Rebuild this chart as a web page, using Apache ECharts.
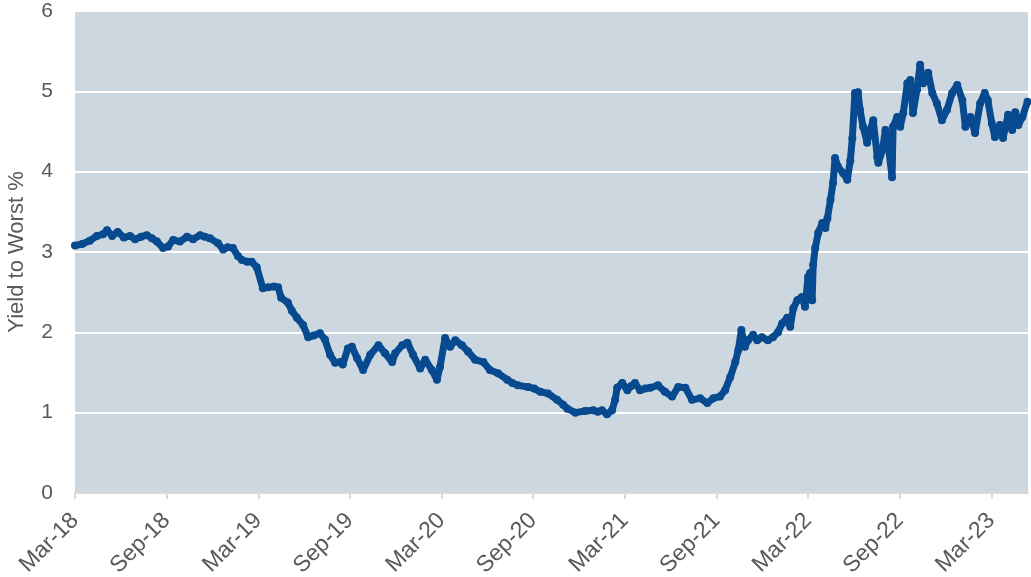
<!DOCTYPE html>
<html>
<head>
<meta charset="utf-8">
<script src="https://cdn.jsdelivr.net/npm/echarts@6/dist/echarts.min.js"></script>
<style>
  html, body { margin: 0; padding: 0; background: #ffffff; }
  #chart { width: 1031px; height: 577px; }
</style>
</head>
<body>
<div id="chart"></div>
<script>
// Observation dates and yield-to-worst values (%)
const dates = [
  '2018-03-01','2018-03-15','2018-03-30','2018-04-14','2018-04-26','2018-05-04','2018-05-14','2018-05-25',
  '2018-06-07','2018-06-19','2018-06-29','2018-07-11','2018-07-22','2018-08-02','2018-08-12','2018-08-24',
  '2018-09-04','2018-09-14','2018-09-27','2018-10-11','2018-10-23','2018-11-07','2018-11-16','2018-11-26',
  '2018-12-12','2018-12-22','2019-01-01','2019-01-11','2019-01-21','2019-01-29','2019-02-09','2019-02-18',
  '2019-02-28','2019-03-10','2019-03-20','2019-04-02','2019-04-10','2019-04-16','2019-04-29','2019-05-07',
  '2019-05-17','2019-05-29','2019-06-09','2019-06-20','2019-07-02','2019-07-12','2019-07-22','2019-08-02',
  '2019-08-12','2019-08-17','2019-08-27','2019-09-05','2019-09-15','2019-09-27','2019-10-11','2019-10-27',
  '2019-11-10','2019-11-24','2019-11-30','2019-12-14','2019-12-24','2020-01-05','2020-01-19','2020-01-29',
  '2020-02-12','2020-02-22','2020-02-28','2020-03-08','2020-03-18','2020-03-28','2020-04-11','2020-04-23',
  '2020-05-07','2020-05-23','2020-06-06','2020-06-22','2020-07-10','2020-07-20','2020-08-01','2020-08-21',
  '2020-09-03','2020-09-15','2020-09-30','2020-10-18','2020-10-30','2020-11-08','2020-11-24','2020-12-13',
  '2020-12-29','2021-01-08','2021-01-16','2021-01-26','2021-02-06','2021-02-12','2021-02-16','2021-02-26',
  '2021-03-06','2021-03-13','2021-03-21','2021-04-01','2021-04-11','2021-04-21','2021-05-06','2021-05-20',
  '2021-06-04','2021-06-16','2021-06-30','2021-07-13','2021-07-29','2021-08-13','2021-08-25','2021-09-08',
  '2021-09-18','2021-09-28','2021-10-08','2021-10-14','2021-10-20','2021-10-27','2021-11-03','2021-11-13',
  '2021-11-21','2021-11-30','2021-12-12','2021-12-22','2022-01-02','2022-01-10','2022-01-20','2022-01-26',
  '2022-02-02','2022-02-10','2022-02-19','2022-02-25','2022-03-01','2022-03-05','2022-03-09','2022-03-11',
  '2022-03-15','2022-03-21','2022-03-29','2022-04-05','2022-04-09','2022-04-15','2022-04-20','2022-04-24',
  '2022-04-30','2022-05-10','2022-05-18','2022-05-24','2022-05-28','2022-06-03','2022-06-09','2022-06-13',
  '2022-06-19','2022-06-27','2022-07-03','2022-07-09','2022-07-17','2022-07-19','2022-07-27','2022-08-03',
  '2022-08-08','2022-08-16','2022-08-18','2022-08-26','2022-09-02','2022-09-08','2022-09-16','2022-09-22',
  '2022-09-27','2022-10-05','2022-10-11','2022-10-17','2022-10-27','2022-11-05','2022-11-14','2022-11-24',
  '2022-12-04','2022-12-14','2022-12-24','2023-01-04','2023-01-10','2023-01-20','2023-01-29','2023-02-09',
  '2023-02-18','2023-02-24','2023-03-02','2023-03-08','2023-03-18','2023-03-24','2023-04-04','2023-04-12',
  '2023-04-18','2023-04-24','2023-05-02','2023-05-12'
];

const yieldToWorst = [
  3.08, 3.10, 3.14, 3.20, 3.22, 3.27, 3.20, 3.25,
  3.18, 3.20, 3.16, 3.19, 3.21, 3.17, 3.13, 3.05,
  3.07, 3.15, 3.13, 3.19, 3.16, 3.21, 3.19, 3.17,
  3.11, 3.03, 3.06, 3.05, 2.95, 2.90, 2.88, 2.88,
  2.81, 2.55, 2.56, 2.57, 2.56, 2.43, 2.37, 2.27,
  2.18, 2.09, 1.94, 1.96, 1.99, 1.91, 1.72, 1.62,
  1.63, 1.60, 1.80, 1.82, 1.68, 1.53, 1.72, 1.84,
  1.74, 1.63, 1.74, 1.84, 1.87, 1.72, 1.55, 1.66,
  1.53, 1.41, 1.57, 1.93, 1.82, 1.90, 1.84, 1.76,
  1.66, 1.63, 1.53, 1.49, 1.41, 1.37, 1.34, 1.32,
  1.30, 1.26, 1.24, 1.16, 1.10, 1.05, 1.00, 1.02,
  1.03, 1.01, 1.03, 0.98, 1.03, 1.16, 1.31, 1.37,
  1.28, 1.33, 1.37, 1.28, 1.30, 1.31, 1.34, 1.26,
  1.20, 1.32, 1.31, 1.16, 1.18, 1.12, 1.18, 1.20,
  1.28, 1.44, 1.63, 1.78, 2.03, 1.82, 1.90, 1.97,
  1.90, 1.94, 1.90, 1.94, 2.00, 2.11, 2.18, 2.07,
  2.30, 2.40, 2.44, 2.32, 2.69, 2.74, 2.40, 2.84,
  3.05, 3.24, 3.36, 3.30, 3.42, 3.65, 3.86, 4.17,
  4.06, 3.98, 3.90, 4.14, 4.42, 4.98, 4.99, 4.77,
  4.56, 4.36, 4.52, 4.64, 4.18, 4.11, 4.27, 4.52,
  4.36, 3.93, 4.56, 4.68, 4.56, 4.73, 5.10, 5.14,
  4.73, 5.02, 5.33, 5.10, 5.23, 4.98, 4.85, 4.64,
  4.77, 4.98, 5.08, 4.89, 4.56, 4.68, 4.48, 4.85,
  4.98, 4.89, 4.60, 4.43, 4.58, 4.42, 4.71, 4.52,
  4.74, 4.58, 4.68, 4.87
];

// Half-yearly tick labels, one per 6-month step from Mar-18
const tickLabels = ['Mar-18','Sep-18','Mar-19','Sep-19','Mar-20','Sep-20',
                    'Mar-21','Sep-21','Mar-22','Sep-22','Mar-23'];

// Months elapsed since 1 March 2018
function monthsSinceStart(s) {
  const [y, m, d] = s.split('-').map(Number);
  return (y - 2018) * 12 + (m - 3) + (d - 1) / 30;
}

const seriesData = dates.map((d, i) => [monthsSinceStart(d), yieldToWorst[i]]);

const textColor = '#595959';
const fontFamily = 'Liberation Sans, Arial, sans-serif';
const chart = echarts.init(document.getElementById('chart'), null, { renderer: 'canvas' });

chart.setOption({
  animation: false,
  grid: {
    left: 75, right: 3, top: 11, bottom: 84,
    containLabel: false,
    outerBoundsMode: 'none',
    show: true, backgroundColor: '#CDD7E0', borderWidth: 0
  },
  xAxis: {
    type: 'value',
    min: 0, max: 62.4, interval: 6,
    axisLine: { show: true, lineStyle: { color: '#D9D9D9', width: 2 } },
    axisTick: { show: true, length: 6, lineStyle: { color: '#D9D9D9', width: 2 } },
    splitLine: { show: false },
    axisLabel: {
      rotate: 45, margin: 24,
      color: textColor, fontSize: 23, fontFamily,
      showMaxLabel: false,
      formatter: v => {
        const k = Math.round(v / 6);
        return Math.abs(v - k * 6) < 1e-6 && tickLabels[k] ? tickLabels[k] : '';
      }
    }
  },
  yAxis: {
    type: 'value',
    min: 0, max: 6, interval: 1,
    name: 'Yield to Worst %',
    nameLocation: 'middle', nameGap: 47,
    nameTextStyle: { color: textColor, fontSize: 22, fontFamily },
    axisLine: { show: false },
    axisTick: { show: false },
    axisLabel: { color: textColor, fontSize: 21, margin: 22, fontFamily },
    splitLine: { show: true, lineStyle: { color: '#FFFFFF', width: 2 } }
  },
  series: [{
    type: 'line',
    data: seriesData,
    showSymbol: true,
    symbol: 'circle',
    symbolSize: 8,
    lineStyle: { color: '#084A8F', width: 7, join: 'round', cap: 'round' },
    itemStyle: { color: '#084A8F', borderWidth: 0 },
    z: 3
  }]
});
</script>
</body>
</html>
